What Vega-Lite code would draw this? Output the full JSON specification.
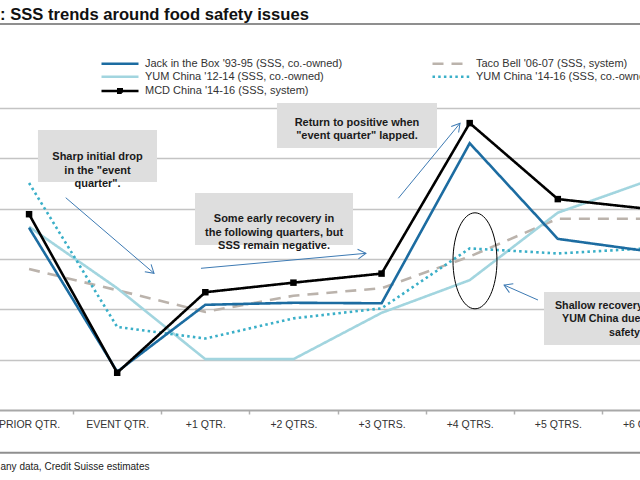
{
  "$schema": "https://vega.github.io/schema/vega-lite/v6.json",
  "width": 640,
  "height": 302,
  "autosize": {"type": "none"},
  "padding": {"left": 0, "right": 0, "top": 108, "bottom": 70},
  "background": "white",
  "title": {
    "text": ": SSS trends around food safety issues",
    "anchor": "start",
    "frame": "group",
    "offset": -14,
    "font": "Liberation Sans",
    "fontSize": 16.6,
    "fontWeight": "bold",
    "color": "#111111",
    "baseline": "alphabetic"
  },
  "config": {"view": {"stroke": null}, "font": "Liberation Sans"},
  "datasets": {
    "sss": [
      {"series": "Taco Bell '06-07 (SSS, system)", "qtr": "PRIOR QTR.", "v": -2.0},
      {"series": "Taco Bell '06-07 (SSS, system)", "qtr": "EVENT QTR.", "v": -6.2},
      {"series": "Taco Bell '06-07 (SSS, system)", "qtr": "+1 QTR.", "v": -10.5},
      {"series": "Taco Bell '06-07 (SSS, system)", "qtr": "+2 QTRS.", "v": -7.3},
      {"series": "Taco Bell '06-07 (SSS, system)", "qtr": "+3 QTRS.", "v": -5.8},
      {"series": "Taco Bell '06-07 (SSS, system)", "qtr": "+4 QTRS.", "v": 0.5},
      {"series": "Taco Bell '06-07 (SSS, system)", "qtr": "+5 QTRS.", "v": 8.0},
      {"series": "Taco Bell '06-07 (SSS, system)", "qtr": "+6 QTRS.", "v": 8.0},
      {"series": "YUM China '12-14 (SSS, co.-owned)", "qtr": "PRIOR QTR.", "v": 6.4},
      {"series": "YUM China '12-14 (SSS, co.-owned)", "qtr": "EVENT QTR.", "v": -5.8},
      {"series": "YUM China '12-14 (SSS, co.-owned)", "qtr": "+1 QTR.", "v": -19.9},
      {"series": "YUM China '12-14 (SSS, co.-owned)", "qtr": "+2 QTRS.", "v": -19.9},
      {"series": "YUM China '12-14 (SSS, co.-owned)", "qtr": "+3 QTRS.", "v": -10.7},
      {"series": "YUM China '12-14 (SSS, co.-owned)", "qtr": "+4 QTRS.", "v": -4.2},
      {"series": "YUM China '12-14 (SSS, co.-owned)", "qtr": "+5 QTRS.", "v": 9.2},
      {"series": "YUM China '12-14 (SSS, co.-owned)", "qtr": "+6 QTRS.", "v": 15.4},
      {"series": "YUM China '14-16 (SSS, co.-owned)", "qtr": "PRIOR QTR.", "v": 15.1},
      {"series": "YUM China '14-16 (SSS, co.-owned)", "qtr": "EVENT QTR.", "v": -13.5},
      {"series": "YUM China '14-16 (SSS, co.-owned)", "qtr": "+1 QTR.", "v": -15.8},
      {"series": "YUM China '14-16 (SSS, co.-owned)", "qtr": "+2 QTRS.", "v": -11.8},
      {"series": "YUM China '14-16 (SSS, co.-owned)", "qtr": "+3 QTRS.", "v": -9.8},
      {"series": "YUM China '14-16 (SSS, co.-owned)", "qtr": "+4 QTRS.", "v": 2.1},
      {"series": "YUM China '14-16 (SSS, co.-owned)", "qtr": "+5 QTRS.", "v": 1.1},
      {"series": "YUM China '14-16 (SSS, co.-owned)", "qtr": "+6 QTRS.", "v": 2.1},
      {"series": "Jack in the Box '93-95 (SSS, co.-owned)", "qtr": "PRIOR QTR.", "v": 6.2},
      {"series": "Jack in the Box '93-95 (SSS, co.-owned)", "qtr": "EVENT QTR.", "v": -22.4},
      {"series": "Jack in the Box '93-95 (SSS, co.-owned)", "qtr": "+1 QTR.", "v": -9.1},
      {"series": "Jack in the Box '93-95 (SSS, co.-owned)", "qtr": "+2 QTRS.", "v": -8.7},
      {"series": "Jack in the Box '93-95 (SSS, co.-owned)", "qtr": "+3 QTRS.", "v": -8.8},
      {"series": "Jack in the Box '93-95 (SSS, co.-owned)", "qtr": "+4 QTRS.", "v": 23.0},
      {"series": "Jack in the Box '93-95 (SSS, co.-owned)", "qtr": "+5 QTRS.", "v": 4.0},
      {"series": "Jack in the Box '93-95 (SSS, co.-owned)", "qtr": "+6 QTRS.", "v": 1.6},
      {"series": "MCD China '14-16 (SSS, system)", "qtr": "PRIOR QTR.", "v": 8.9},
      {"series": "MCD China '14-16 (SSS, system)", "qtr": "EVENT QTR.", "v": -22.6},
      {"series": "MCD China '14-16 (SSS, system)", "qtr": "+1 QTR.", "v": -6.6},
      {"series": "MCD China '14-16 (SSS, system)", "qtr": "+2 QTRS.", "v": -4.7},
      {"series": "MCD China '14-16 (SSS, system)", "qtr": "+3 QTRS.", "v": -2.9},
      {"series": "MCD China '14-16 (SSS, system)", "qtr": "+4 QTRS.", "v": 27.0},
      {"series": "MCD China '14-16 (SSS, system)", "qtr": "+5 QTRS.", "v": 11.9},
      {"series": "MCD China '14-16 (SSS, system)", "qtr": "+6 QTRS.", "v": 10.0}
    ],
    "boxes": [
      {"i1": 0.101, "i2": 1.452, "v1": 25.63, "v2": 15.3},
      {"i1": 1.883, "i2": 3.676, "v1": 13.11, "v2": 2.78},
      {"i1": 2.813, "i2": 4.629, "v1": 30.99, "v2": 22.05},
      {"i1": 5.843, "i2": 7.6, "v1": -6.56, "v2": -17.09}
    ],
    "notes": [
      {"i": 0.777, "v": 20.26, "text": "Sharp initial drop\nin the \"event\nquarter\"."},
      {"i": 2.78, "v": 7.85, "text": "Some early recovery in\nthe following quarters, but\nSSS remain negative."},
      {"i": 3.721, "v": 27.02, "text": "Return to positive when\n\"event quarter\" lapped."}
    ],
    "notes4": [
      {"i": 5.968, "v": -9.28, "text": "Shallow recovery at"},
      {"i": 6.048, "v": -11.92, "text": "YUM China due to food"},
      {"i": 6.581, "v": -14.7, "text": "safety issues."}
    ],
    "arrows": [
      {"i1": 0.416, "v1": 12.18, "i2": 1.418, "v2": -2.84, "ang": 40.6},
      {"i1": 1.951, "v1": -1.85, "i2": 3.823, "v2": 1.13, "ang": 354.8},
      {"i1": 4.19, "v1": 12.06, "i2": 4.89, "v2": 26.96, "ang": 309.4},
      {"i1": 5.775, "v1": -8.15, "i2": 5.39, "v2": -5.17, "ang": 203.8}
    ],
    "ellipse": [{"i": 5.06, "v": -0.36}],
    "rules": [{"v": 46.7}, {"v": -38.5}]
  },
  "layer": [
    {
      "layer": [
        {
          "data": {"name": "sss"},
          "mark": {"type": "line", "strokeWidth": 2.6},
          "encoding": {
            "x": {
              "field": "qtr", "type": "nominal", "bandPosition": 0.5,
              "scale": {"type": "band", "domain": ["PRIOR QTR.", "EVENT QTR.", "+1 QTR.", "+2 QTRS.", "+3 QTRS.", "+4 QTRS.", "+5 QTRS.", "+6 QTRS."], "range": [-15, 690], "paddingInner": 0, "paddingOuter": 0},
              "axis": {
                "title": "any data, Credit Suisse estimates",
                "titleX": 0, "titleY": 59, "titleAlign": "left", "titleBaseline": "alphabetic",
                "titleFont": "Liberation Sans", "titleFontSize": 10, "titleFontWeight": "normal", "titleColor": "#222222",
                "labelFont": "Liberation Sans", "labelFontSize": 10.5, "labelColor": "#333333", "labelPadding": 5, "labelAngle": 0,
                "labelOverlap": false, "labelBound": false,
                "tickBand": "extent", "tickColor": "#b0b0b0", "tickSize": 4, "tickWidth": 1.5,
                "domainColor": "#a8a8a8", "domainWidth": 2, "grid": false
              }
            },
            "y": {
              "field": "v", "type": "quantitative",
              "scale": {"domain": [-30, 30], "nice": false, "zero": false},
              "axis": {"values": [-20, -10, 0, 10, 20, 30], "grid": true, "gridColor": "#c4c4c4", "gridWidth": 1.5, "labels": false, "ticks": false, "domain": false, "title": null}
            },
            "color": {
              "field": "series", "type": "nominal",
              "scale": {"domain": ["Jack in the Box '93-95 (SSS, co.-owned)", "YUM China '12-14 (SSS, co.-owned)", "MCD China '14-16 (SSS, system)", "Taco Bell '06-07 (SSS, system)", "YUM China '14-16 (SSS, co.-owned)"], "range": ["#1c6ca1", "#a2d5df", "#000000", "#bbb3ac", "#3aafc8"]}
            },
            "strokeDash": {
              "field": "series", "type": "nominal",
              "scale": {"domain": ["Jack in the Box '93-95 (SSS, co.-owned)", "YUM China '12-14 (SSS, co.-owned)", "MCD China '14-16 (SSS, system)", "Taco Bell '06-07 (SSS, system)", "YUM China '14-16 (SSS, co.-owned)"], "range": [[1, 0], [1, 0], [1, 0], [11, 8], [2.5, 3.2]]}
            }
          }
        },
        {
          "data": {"name": "sss"},
          "mark": {"type": "point", "filled": false, "opacity": 0, "size": 100, "strokeWidth": 2.5},
          "encoding": {
            "x": {"field": "qtr", "type": "nominal", "bandPosition": 0.5},
            "y": {"field": "v", "type": "quantitative", "scale": {"domain": [-30, 30], "nice": false, "zero": false}},
            "color": {
              "field": "series", "type": "nominal",
              "legend": {
                "orient": "none", "legendX": 113.5, "legendY": -51, "columns": 2, "columnPadding": 85, "rowPadding": 1.3,
                "title": null, "labelFont": "Liberation Sans", "labelFontSize": 11, "labelColor": "#333333", "labelOffset": 18.5, "labelLimit": 400,
                "symbolStrokeWidth": 2.5,
                "encode": {"symbols": {"update": {"opacity": {"value": 1}, "fill": {"value": "#000000"}}}}
              }
            },
            "strokeDash": {"field": "series", "type": "nominal"},
            "shape": {
              "field": "series", "type": "nominal",
              "scale": {"domain": ["Jack in the Box '93-95 (SSS, co.-owned)", "YUM China '12-14 (SSS, co.-owned)", "MCD China '14-16 (SSS, system)", "Taco Bell '06-07 (SSS, system)", "YUM China '14-16 (SSS, co.-owned)"], "range": ["M-3.7,0H3.7", "M-3.7,0H3.7", "M-3.7,0H3.7M-0.35,-0.35H0.35V0.35H-0.35Z", "M-3.7,0H3.7", "M-3.7,0H3.7"]}
            }
          }
        },
        {
          "data": {"name": "sss"},
          "transform": [{"filter": {"field": "series", "equal": "MCD China '14-16 (SSS, system)"}}],
          "mark": {"type": "point", "shape": "square", "filled": true, "color": "#000000", "size": 42, "opacity": 1},
          "encoding": {
            "x": {"field": "qtr", "type": "nominal", "bandPosition": 0.5},
            "y": {"field": "v", "type": "quantitative", "scale": {"domain": [-30, 30], "nice": false, "zero": false}}
          }
        }
      ]
    },
    {
      "layer": [
        {
          "data": {"name": "rules"},
          "mark": {"type": "rule", "color": "#8f8f8f", "strokeWidth": 2},
          "encoding": {
            "y": {"field": "v", "type": "quantitative", "scale": {"domain": [-30, 30], "nice": false, "zero": false}}
          }
        },
        {
          "data": {"name": "boxes"},
          "mark": {"type": "rect", "color": "#dedede"},
          "encoding": {
            "x": {"field": "i1", "type": "quantitative", "scale": {"domain": [-0.5, 7.5], "range": [-15, 690], "nice": false, "zero": false}, "axis": null},
            "x2": {"field": "i2"},
            "y": {"field": "v1", "type": "quantitative", "scale": {"domain": [-30, 30], "nice": false, "zero": false}},
            "y2": {"field": "v2"}
          }
        },
        {
          "data": {"name": "notes"},
          "mark": {"type": "text", "align": "center", "baseline": "middle", "lineBreak": "\n", "lineHeight": 13.5, "font": "Liberation Sans", "fontSize": 11, "fontWeight": "bold", "color": "#1a1a1a"},
          "encoding": {
            "x": {"field": "i", "type": "quantitative", "axis": null},
            "y": {"field": "v", "type": "quantitative", "scale": {"domain": [-30, 30], "nice": false, "zero": false}},
            "text": {"field": "text"}
          }
        },
        {
          "data": {"name": "notes4"},
          "mark": {"type": "text", "align": "left", "baseline": "middle", "font": "Liberation Sans", "fontSize": 10.7, "fontWeight": "bold", "color": "#1a1a1a"},
          "encoding": {
            "x": {"field": "i", "type": "quantitative", "axis": null},
            "y": {"field": "v", "type": "quantitative", "scale": {"domain": [-30, 30], "nice": false, "zero": false}},
            "text": {"field": "text"}
          }
        },
        {
          "data": {"name": "arrows"},
          "mark": {"type": "rule", "color": "#3d7ab3", "strokeWidth": 1},
          "encoding": {
            "x": {"field": "i1", "type": "quantitative", "axis": null},
            "x2": {"field": "i2"},
            "y": {"field": "v1", "type": "quantitative", "scale": {"domain": [-30, 30], "nice": false, "zero": false}},
            "y2": {"field": "v2"}
          }
        },
        {
          "data": {"name": "arrows"},
          "mark": {"type": "point", "shape": "M-1,-0.6L0,0L-1,0.6", "filled": false, "color": "#3d7ab3", "strokeWidth": 1, "size": 256, "opacity": 1},
          "encoding": {
            "x": {"field": "i2", "type": "quantitative", "axis": null},
            "y": {"field": "v2", "type": "quantitative", "scale": {"domain": [-30, 30], "nice": false, "zero": false}},
            "angle": {"field": "ang", "type": "quantitative", "scale": {"domain": [0, 360], "range": [0, 360]}}
          }
        },
        {
          "data": {"name": "ellipse"},
          "mark": {"type": "point", "shape": "M0,-1C0.253,-1,0.458,-0.552,0.458,0C0.458,0.552,0.253,1,0,1C-0.253,1,-0.458,0.552,-0.458,0C-0.458,-0.552,-0.253,-1,0,-1Z", "filled": false, "color": "#000000", "strokeWidth": 1, "size": 9216, "opacity": 1},
          "encoding": {
            "x": {"field": "i", "type": "quantitative", "axis": null},
            "y": {"field": "v", "type": "quantitative", "scale": {"domain": [-30, 30], "nice": false, "zero": false}}
          }
        }
      ]
    }
  ],
  "resolve": {"scale": {"x": "independent"}}
}
